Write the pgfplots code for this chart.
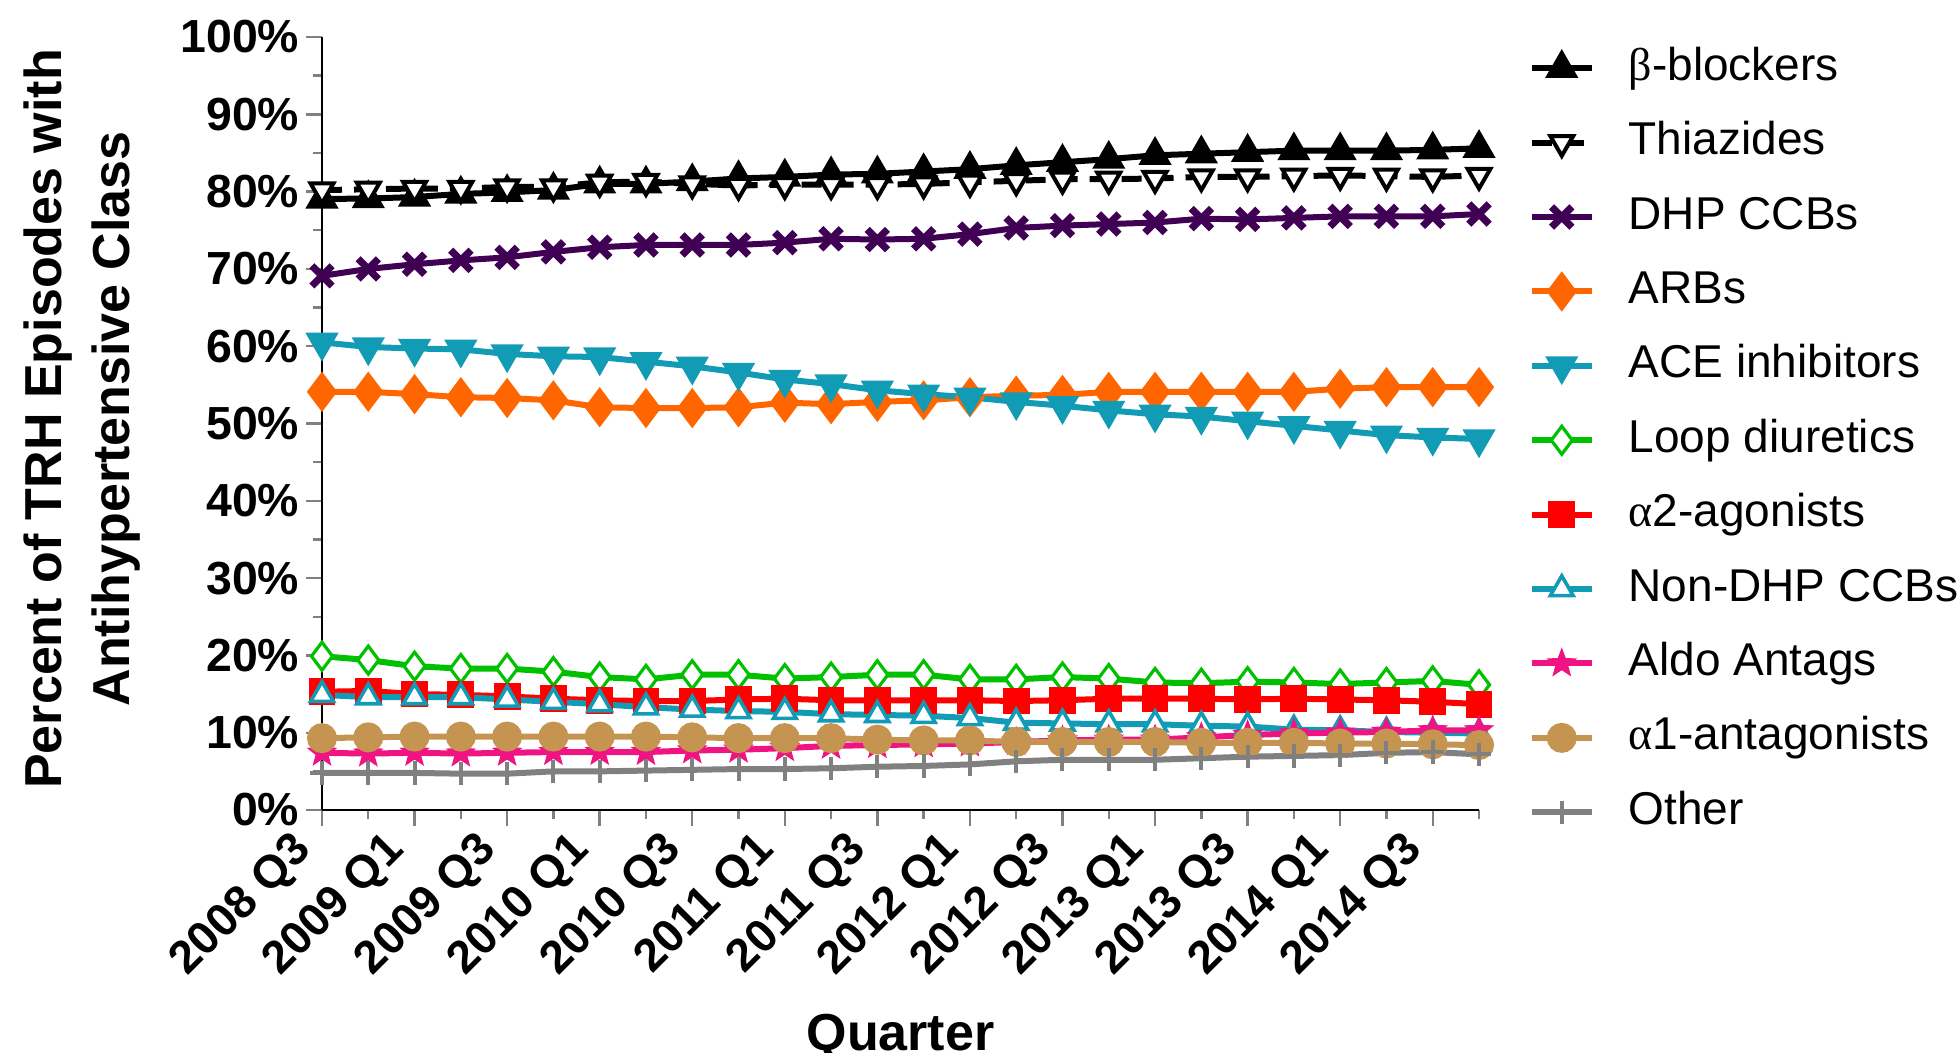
\documentclass[border=0pt]{standalone}
\usepackage{fontspec}
\setmainfont{Liberation Sans}
\newfontfamily\grk{Liberation Serif}
\usepackage{pgfplots}
\usepackage{pgfplotstable}
\pgfplotsset{compat=1.18}

\definecolor{dhpc}{RGB}{64,0,84}
\definecolor{arbc}{RGB}{255,102,0}
\definecolor{acec}{RGB}{17,155,181}
\definecolor{loopc}{RGB}{0,192,0}
\definecolor{aldoc}{RGB}{240,20,130}
\definecolor{aonec}{RGB}{196,148,80}
\definecolor{othc}{RGB}{128,128,128}

\pgfdeclareplotmark{fstar}{%
  \pgfpathmoveto{\pgfqpointpolar{90}{\pgfplotmarksize}}%
  \pgfpathlineto{\pgfqpointpolar{126}{0.42\pgfplotmarksize}}%
  \pgfpathlineto{\pgfqpointpolar{162}{\pgfplotmarksize}}%
  \pgfpathlineto{\pgfqpointpolar{198}{0.42\pgfplotmarksize}}%
  \pgfpathlineto{\pgfqpointpolar{234}{\pgfplotmarksize}}%
  \pgfpathlineto{\pgfqpointpolar{270}{0.42\pgfplotmarksize}}%
  \pgfpathlineto{\pgfqpointpolar{306}{\pgfplotmarksize}}%
  \pgfpathlineto{\pgfqpointpolar{342}{0.42\pgfplotmarksize}}%
  \pgfpathlineto{\pgfqpointpolar{18}{\pgfplotmarksize}}%
  \pgfpathlineto{\pgfqpointpolar{54}{0.42\pgfplotmarksize}}%
  \pgfpathclose
  \pgfusepathqfillstroke}

\pgfplotsset{
  limg/.style={legend image code/.code={%
    \draw[mark repeat=2,mark phase=2,##1,draw=#1,color=#1] plot coordinates {(0pt,0pt) (7.5pt,0pt) (15pt,0pt)};}},
}

\pgfplotstableread{
q  bb    thz   dhp   arb   ace   loop  atwo  ndhp  aldo  aone  oth
0  79.05 80.2  69.1  54.1  60.5  19.9  15.3  14.9  7.4   9.3   4.8
1  79.1  80.3  70.0  54.1  59.9  19.4  15.4  14.6  7.3   9.4   4.8
2  79.3  80.4  70.6  53.8  59.7  18.6  15.0  14.6  7.4   9.5   4.8
3  79.7  80.4  71.1  53.4  59.6  18.3  14.9  14.6  7.3   9.5   4.7
4  79.9  80.6  71.5  53.3  59.0  18.3  14.7  14.3  7.4   9.5   4.7
5  80.2  80.6  72.2  53.0  58.7  17.9  14.4  14.0  7.5   9.5   5.0
6  81.0  81.2  72.8  52.1  58.6  17.2  14.2  13.7  7.5   9.5   5.0
7  81.0  81.3  73.1  52.0  58.0  16.9  14.1  13.3  7.5   9.5   5.1
8  81.3  81.0  73.1  52.0  57.4  17.5  14.1  13.0  7.7   9.4   5.2
9  81.7  80.8  73.1  52.1  56.6  17.5  14.3  12.8  7.8   9.3   5.3
10 81.9  80.9  73.4  52.7  55.7  17.0  14.4  12.7  8.0   9.3   5.3
11 82.2  80.9  73.9  52.5  55.1  17.2  14.2  12.4  8.3   9.3   5.4
12 82.3  80.9  73.8  52.8  54.3  17.5  14.2  12.3  8.4   9.1   5.6
13 82.6  81.0  73.9  53.0  53.8  17.5  14.2  12.2  8.5   9.0   5.7
14 82.9  81.2  74.5  53.4  53.4  16.9  14.2  11.9  8.6   9.0   5.9
15 83.4  81.4  75.3  53.6  52.8  16.9  14.1  11.3  8.8   8.8   6.3
16 83.8  81.6  75.6  53.7  52.3  17.2  14.2  11.2  9.0   8.8   6.5
17 84.2  81.6  75.8  54.1  51.7  17.0  14.4  11.1  9.1   8.8   6.5
18 84.7  81.7  76.0  54.1  51.2  16.5  14.4  11.1  9.1   8.8   6.5
19 84.9  81.9  76.5  54.1  50.9  16.4  14.4  10.9  9.4   8.7   6.7
20 85.1  81.9  76.4  54.1  50.3  16.6  14.3  10.8  9.7   8.7   6.9
21 85.3  82.0  76.6  54.1  49.7  16.5  14.4  10.4  9.9   8.7   7.0
22 85.3  82.1  76.8  54.5  49.1  16.3  14.3  10.3  10.0  8.6   7.1
23 85.3  82.0  76.8  54.7  48.5  16.5  14.2  10.1  10.1  8.6   7.4
24 85.4  81.9  76.8  54.7  48.2  16.7  14.0  10.0  10.3  8.5   7.5
25 85.6  82.1  77.1  54.7  48.0  16.2  13.7  9.9   10.3  8.4   7.2
}\datatable

\begin{document}
\begin{tikzpicture}
\begin{axis}[
  at={(0pt,0pt)}, anchor=south west,
  scale only axis, width=289.25pt, height=193.25pt,
  xmin=0, xmax=25, ymin=0, ymax=100,
  axis lines=left, axis line style={-, line width=0.6pt},
  tick align=outside,
  major tick length=4pt, minor tick length=2.2pt,
  tick style={line width=0.6pt},
  xtick={0,2,...,24}, minor xtick={1,3,...,25},
  xticklabels={2008 Q3, 2009 Q1, 2009 Q3, 2010 Q1, 2010 Q3, 2011 Q1, 2011 Q3, 2012 Q1, 2012 Q3, 2013 Q1, 2013 Q3, 2014 Q1, 2014 Q3},
  ytick={0,10,...,100}, minor ytick={5,15,...,95},
  yticklabel={\pgfmathprintnumber{\tick}\%},
  /pgf/number format/assume math mode=true,
  yticklabel style={font=\fontsize{11.6}{13}\selectfont\bfseries, inner sep=1.5pt},
  xticklabel style={font=\fontsize{11.5}{13}\selectfont\bfseries, rotate=45, anchor=east, inner ysep=1pt, inner xsep=6pt},
  xlabel={Quarter},
  xlabel style={at={(axis description cs:0.5,0)}, anchor=base, yshift=-60pt, font=\fontsize{13}{15}\selectfont\bfseries},
  ylabel={Percent of TRH Episodes with\\Antihypertensive Class},
  ylabel style={at={(axis description cs:-0.2074,0.506)}, anchor=center, align=center, font=\fontsize{13}{17}\selectfont\bfseries},
  clip=false,
  every axis legend/.style={at={(axis description cs:1.043,0.987)}, anchor=north west, shape=rectangle,
    inner sep=0pt, outer sep=0pt, font=\fontsize{11.5}{13}\selectfont,
    row sep=8pt, nodes={inner sep=0pt, text height=8.3pt, text depth=2.3pt},
    /tikz/every odd column/.append style={column sep=8.5pt}},
  legend cell align=left,
]
\addplot[color=black, line width=1.5pt, mark=triangle*, mark size=3.3pt, mark options={solid, fill=black}, limg=black] table[x=q,y=bb] {\datatable};
\addlegendentry{{\grk β}-blockers}
\addplot[color=black, line width=1.5pt, dash pattern=on 5pt off 3pt, mark=triangle*, mark size=3.3pt, mark options={solid, rotate=180, fill=white, draw=black, line width=1pt}, limg=black] table[x=q,y=thz] {\datatable};
\addlegendentry{Thiazides}
\addplot[color=dhpc, line width=1.5pt, mark=x, mark size=3.6pt, mark options={solid, draw=dhpc, line width=1.8pt}, limg=dhpc] table[x=q,y=dhp] {\datatable};
\addlegendentry{DHP CCBs}
\addplot[color=arbc, line width=1.5pt, mark=diamond*, mark size=3.8pt, mark options={solid, draw=arbc, fill=arbc}, limg=arbc] table[x=q,y=arb] {\datatable};
\addlegendentry{ARBs}
\addplot[color=acec, line width=1.5pt, mark=triangle*, mark size=3.3pt, mark options={solid, rotate=180, draw=acec, fill=acec}, limg=acec] table[x=q,y=ace] {\datatable};
\addlegendentry{ACE inhibitors}
\addplot[color=loopc, line width=1.5pt, mark=diamond*, mark size=3.5pt, mark options={solid, fill=white, draw=loopc, line width=0.8pt}, limg=loopc] table[x=q,y=loop] {\datatable};
\addlegendentry{Loop diuretics}
\addplot[color=red, line width=1.5pt, mark=square*, mark size=2.6pt, mark options={solid, draw=red, fill=red}, limg=red] table[x=q,y=atwo] {\datatable};
\addlegendentry{{\grk α}2-agonists}
\addplot[color=acec, line width=1.5pt, mark=triangle*, mark size=3.3pt, mark options={solid, fill=white, draw=acec, line width=0.9pt}, limg=acec] table[x=q,y=ndhp] {\datatable};
\addlegendentry{Non-DHP CCBs}
\addplot[color=aldoc, line width=1.5pt, mark=fstar, mark size=3.6pt, mark options={solid, draw=aldoc, fill=aldoc, line width=0.3pt}, limg=aldoc] table[x=q,y=aldo] {\datatable};
\addlegendentry{Aldo Antags}
\addplot[color=aonec, line width=1.5pt, mark=*, mark size=3pt, mark options={solid, draw=aonec, fill=aonec}, limg=aonec] table[x=q,y=aone] {\datatable};
\addlegendentry{{\grk α}1-antagonists}
\addplot[color=othc, line width=1.5pt, mark=+, mark size=2.9pt, mark options={solid, draw=othc, line width=1pt}, limg=othc] table[x=q,y=oth] {\datatable};
\addlegendentry{Other}
\end{axis}
\pgfresetboundingbox
\useasboundingbox (-80.5pt,-60.5pt) rectangle (408.75pt,202.5pt);
\end{tikzpicture}
\end{document}
